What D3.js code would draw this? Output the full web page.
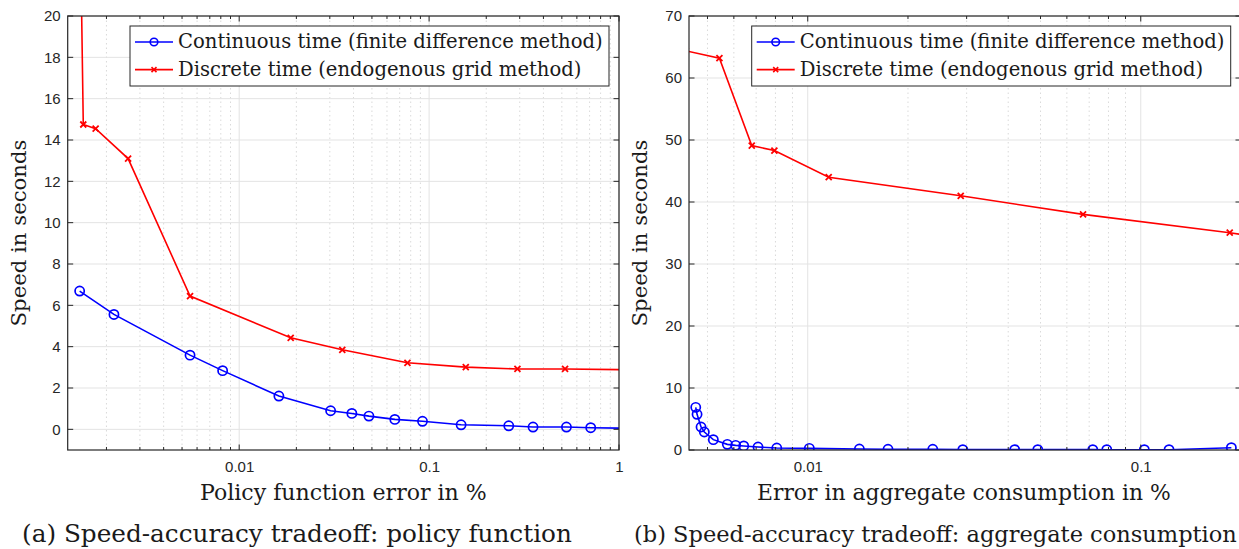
<!DOCTYPE html>
<html>
<head>
<meta charset="utf-8">
<script src="https://cdn.jsdelivr.net/npm/d3@7"></script>
<style>
  body { margin: 0; background: #fff; }
  svg { display: block; }
  .tick text { font-family: "Liberation Sans", Arial, sans-serif; font-size: 15px; fill: #262626; }
  .serif { font-family: "DejaVu Serif", serif; fill: #1a1a1a; }
</style>
</head>
<body>
<svg id="chart" width="1239" height="549"></svg>
<script>
// ---- data: panel (a) policy function error (%) vs speed (s)
const policyCtX = [0.001445, 0.00219, 0.00551, 0.00818, 0.01618, 0.0303, 0.0392, 0.0482, 0.066, 0.0923, 0.1474, 0.2627, 0.3526, 0.5287, 0.7097, 1.3];
const policyCtY = [6.69, 5.56, 3.59, 2.84, 1.61, 0.90, 0.77, 0.64, 0.48, 0.39, 0.22, 0.17, 0.11, 0.11, 0.08, 0.04];
const policyDtX = [0.001427, 0.00151, 0.001754, 0.0026, 0.00551, 0.01867, 0.0349, 0.0769, 0.156, 0.2918, 0.52, 1.5];
const policyDtY = [30, 14.75, 14.55, 13.1, 6.45, 4.43, 3.85, 3.22, 3.01, 2.92, 2.92, 2.87];

// ---- data: panel (b) error in aggregate consumption (%) vs speed (s)
const aggCtX = [0.00461, 0.004652, 0.004782, 0.004892, 0.005206, 0.005735, 0.006076, 0.006423, 0.007091, 0.008072, 0.01011, 0.01429, 0.01742, 0.02374, 0.02922, 0.04183, 0.04906, 0.07177, 0.07906, 0.1025, 0.1216, 0.1871];
const aggCtY = [6.88, 5.75, 3.71, 2.90, 1.67, 0.91, 0.75, 0.65, 0.48, 0.32, 0.27, 0.16, 0.11, 0.11, 0.06, 0.06, 0.06, 0.06, 0.05, 0.05, 0.05, 0.37];
const aggDtX = [0.0043, 0.00543, 0.00679, 0.00794, 0.01156, 0.0288, 0.0671, 0.185, 0.25];
const aggDtY = [64.4, 63.2, 49.1, 48.3, 44.0, 41.0, 38.0, 35.05, 34.0];

// ---- ticks and labels
const policyXTicks = [0.01, 0.1, 1];
const policyYTicks = [0, 2, 4, 6, 8, 10, 12, 14, 16, 18, 20];
const aggXTicks = [0.01, 0.1];
const aggYTicks = [0, 10, 20, 30, 40, 50, 60, 70];
const legendLabels = ["Continuous time (finite difference method)", "Discrete time (endogenous grid method)"];
const seriesColors = ["#0000ff", "#ff0000"];

const svg = d3.select("#chart");

// scale a text's font size so it spans the given width (LaTeX fonts are wide)
function fit(sel, width) {
  const fs = parseFloat(sel.attr("font-size"));
  const w = sel.node().getComputedTextLength();
  sel.attr("font-size", fs * width / w);
  return fs * width / w;
}

function drawPanel(p) {
  const x = d3.scaleLog().domain(p.xDomain).range([p.left, p.right]);
  const y = d3.scaleLinear().domain(p.yDomain).range([p.bottom, p.top]);
  const g = svg.append("g");

  // minor log grid (dotted)
  const minor = [];
  let d0 = Math.floor(Math.log10(p.xDomain[0])), d1 = Math.ceil(Math.log10(p.xDomain[1]));
  for (let e = d0; e <= d1; e++) for (let m = 1; m < 10; m++) {
    const v = m * Math.pow(10, e);
    if (v >= p.xDomain[0] && v <= p.xDomain[1] * 1.0001) minor.push({v, major: m === 1});
  }
  g.selectAll(".mgrid").data(minor.filter(d => !d.major)).join("line")
    .attr("x1", d => x(d.v)).attr("x2", d => x(d.v))
    .attr("y1", p.top).attr("y2", p.bottom)
    .attr("stroke", "#d0d0d0").attr("stroke-width", 0.8).attr("stroke-dasharray", "1.5,3");
  // major grid
  g.selectAll(".xgrid").data(p.xTicks).join("line")
    .attr("x1", d => x(d)).attr("x2", d => x(d))
    .attr("y1", p.top).attr("y2", p.bottom)
    .attr("stroke", "#e3e3e3").attr("stroke-width", 1);
  g.selectAll(".ygrid").data(p.yTicks).join("line")
    .attr("x1", p.left).attr("x2", p.right)
    .attr("y1", d => y(d)).attr("y2", d => y(d))
    .attr("stroke", "#e3e3e3").attr("stroke-width", 1);

  // clip path for data
  const clipId = "clip" + p.id;
  svg.append("clipPath").attr("id", clipId).append("rect")
    .attr("x", p.left).attr("y", p.top).attr("width", p.right - p.left).attr("height", p.bottom - p.top);

  const line = d3.line().x(d => x(d[0])).y(d => y(d[1]));
  const plot = g.append("g").attr("clip-path", `url(#${clipId})`);
  p.series.forEach((s, i) => {
    const pts = s.xs.map((v, j) => [v, s.ys[j]]);
    plot.append("path").datum(pts)
      .attr("fill", "none").attr("stroke", seriesColors[i]).attr("stroke-width", 1.6)
      .attr("d", line);
    if (i === 0) {
      plot.selectAll(".c" + i).data(pts).join("circle")
        .attr("cx", d => x(d[0])).attr("cy", d => y(d[1])).attr("r", 4.6)
        .attr("fill", "none").attr("stroke", seriesColors[i]).attr("stroke-width", 1.7);
    } else {
      plot.selectAll(".x" + i).data(pts).join("path")
        .attr("transform", d => `translate(${x(d[0])},${y(d[1])})`)
        .attr("d", "M-3,-3L3,3M-3,3L3,-3")
        .attr("stroke", seriesColors[i]).attr("stroke-width", 1.8);
    }
  });

  // axes (labels only; tick marks drawn inward below)
  const axCol = "#262626";
  const bottomAx = g.append("g").attr("transform", `translate(0,${p.bottom})`)
    .call(d3.axisBottom(x).tickValues(p.xTicks).tickFormat(d3.format("")).tickSize(0).tickPadding(11));
  const leftAx = g.append("g").attr("transform", `translate(${p.left},0)`)
    .call(d3.axisLeft(y).tickValues(p.yTicks).tickSize(0).tickPadding(7));
  [bottomAx, leftAx].forEach(a => a.select(".domain").remove());

  const tickLen = 5.5;
  g.selectAll(".tkx").data(minor).join("g").each(function (d) {
    const len = d.major ? tickLen : tickLen * 0.55;
    d3.select(this).append("line").attr("x1", x(d.v)).attr("x2", x(d.v))
      .attr("y1", p.bottom).attr("y2", p.bottom - len).attr("stroke", axCol);
    d3.select(this).append("line").attr("x1", x(d.v)).attr("x2", x(d.v))
      .attr("y1", p.top).attr("y2", p.top + len).attr("stroke", axCol);
  });
  g.selectAll(".tky").data(p.yTicks).join("g").each(function (d) {
    d3.select(this).append("line").attr("x1", p.left).attr("x2", p.left + tickLen)
      .attr("y1", y(d)).attr("y2", y(d)).attr("stroke", axCol);
    d3.select(this).append("line").attr("x1", p.right).attr("x2", p.right - tickLen)
      .attr("y1", y(d)).attr("y2", y(d)).attr("stroke", axCol);
  });
  g.append("rect").attr("x", p.left).attr("y", p.top)
    .attr("width", p.right - p.left).attr("height", p.bottom - p.top)
    .attr("fill", "none").attr("stroke", axCol).attr("stroke-width", 1.2);

  // legend
  const lg = g.append("g");
  lg.append("rect").attr("x", p.legX).attr("y", p.top + 10).attr("width", 479).attr("height", 60)
    .attr("fill", "#fff").attr("stroke", "#262626").attr("stroke-width", 1);
  let legFs = null;
  legendLabels.forEach((lab, i) => {
    const ly = p.top + 26 + i * 27.6;
    lg.append("line").attr("x1", p.legX + 5).attr("x2", p.legX + 43).attr("y1", ly).attr("y2", ly)
      .attr("stroke", seriesColors[i]).attr("stroke-width", 1.6);
    if (i === 0) lg.append("circle").attr("cx", p.legX + 24).attr("cy", ly).attr("r", 3.8)
      .attr("fill", "none").attr("stroke", seriesColors[i]).attr("stroke-width", 1.6);
    else lg.append("path").attr("transform", `translate(${p.legX + 24},${ly})`)
      .attr("d", "M-2.5,-2.5L2.5,2.5M-2.5,2.5L2.5,-2.5").attr("stroke", seriesColors[i]).attr("stroke-width", 1.6);
    const t = lg.append("text").attr("class", "serif").attr("x", p.legX + 48).attr("y", ly + 6)
      .attr("font-size", legFs || 20).text(lab);
    if (i === 0) legFs = fit(t, 425);
  });

  // axis titles and caption
  fit(g.append("text").attr("class", "serif").attr("x", p.titleX).attr("y", 500)
    .attr("font-size", 20).text(p.xTitle), p.titleW);
  fit(g.append("text").attr("class", "serif")
    .attr("transform", `translate(${p.left - 42},${(p.top + p.bottom) / 2}) rotate(-90)`)
    .attr("text-anchor", "middle").attr("font-size", 20).text("Speed in seconds"), 187);
  fit(g.append("text").attr("class", "serif").attr("x", p.capX).attr("y", 541.5)
    .attr("font-size", 22).text(p.caption), p.capW);
}

drawPanel({
  id: "a", left: 67.7, right: 619, top: 16, bottom: 450,
  xDomain: [0.00125, 1], yDomain: [-1, 20],
  xTicks: policyXTicks, yTicks: policyYTicks, legX: 130,
  series: [{xs: policyCtX, ys: policyCtY}, {xs: policyDtX, ys: policyDtY}],
  xTitle: "Policy function error in %", titleX: 200, titleW: 287,
  caption: "(a) Speed-accuracy tradeoff: policy function", capX: 22, capW: 550
});
drawPanel({
  id: "b", left: 689, right: 1241, top: 16, bottom: 450,
  xDomain: [0.0044, 0.2], yDomain: [0, 70],
  xTicks: aggXTicks, yTicks: aggYTicks, legX: 751.7,
  series: [{xs: aggCtX, ys: aggCtY}, {xs: aggDtX, ys: aggDtY}],
  xTitle: "Error in aggregate consumption in %", titleX: 757, titleW: 414,
  caption: "(b) Speed-accuracy tradeoff: aggregate consumption", capX: 634, capW: 603
});
</script>
</body>
</html>
